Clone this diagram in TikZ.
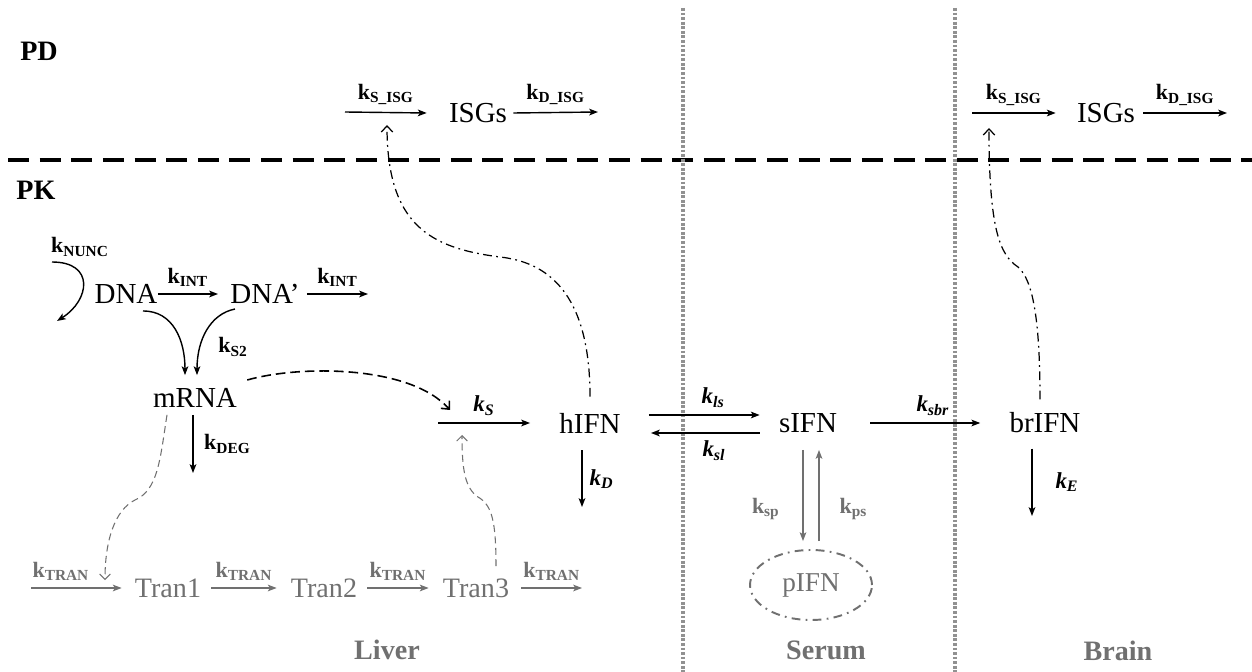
\documentclass[tikz,border=0pt]{standalone}
\usepackage{fontspec}
\setmainfont{Liberation Serif}
\usepackage{tikz}
\usetikzlibrary{arrows.meta,shapes.geometric}

\definecolor{tgray}{RGB}{112,112,112}
\definecolor{lgray}{RGB}{145,145,145}

\newcommand{\krate}[1]{\textbf{k}\textsubscript{\textbf{#1}}}
\newcommand{\kital}[1]{\textbf{\textit{k}}\textsubscript{\textbf{\textit{#1}}}}

\tikzset{
  species/.style={inner sep=0pt, font=\fontsize{16.5}{19}\selectfont},
  tran/.style={inner sep=0pt, text=tgray, font=\fontsize{16}{19}\selectfont},
  rate/.style={inner sep=1pt, font=\fontsize{12.5}{14}\selectfont},
  irate/.style={inner sep=1pt, font=\fontsize{13}{15}\selectfont},
  region/.style={inner sep=1pt, font=\fontsize{16}{19}\selectfont\bfseries},
  rxn/.style={line width=0.8pt, -{Stealth[length=5pt,width=3.8pt,inset=1.2pt]}},
  grxn/.style={rxn, line width=0.6pt, draw=tgray},
  signal/.style={line width=0.9pt, dash pattern=on 5.5pt off 2.8pt, -{Straight Barb[length=3.5pt,width=6.5pt]}},
  gsignal/.style={line width=0.6pt, draw=tgray, dash pattern=on 4pt off 2.5pt, -{Straight Barb[length=3pt,width=6pt]}},
  induce/.style={line width=0.7pt, dash pattern=on 5pt off 2.5pt on 1pt off 2.5pt, -{Straight Barb[length=3.5pt,width=6.5pt]}},
  divider/.style={draw=lgray, line width=2pt, dash pattern=on 1.6pt off 1pt},
}

\begin{document}
\begin{tikzpicture}[x=0.02cm, y=-0.02cm]

\useasboundingbox (0,0) rectangle (1252,672);

\draw[line width=2pt, dash pattern=on 12pt off 6pt] (8,160) -- (1252,160);
\foreach \xs in {683,955}
    \draw[divider] (\xs,8) -- (\xs,672);

\node[region] (PD) at (39,51) {PD};
\node[region] (PK) at (36,190) {PK};

\coordinate (synl) at (345,112);
\coordinate (degl) at (598,112);
\coordinate (synr) at (972,113);
\coordinate (degr) at (1227,113);
\coordinate (intout) at (368,294);
\coordinate (nuncA) at (52,262);
\coordinate (nuncB) at (57,321);
\coordinate (degm) at (193,473);
\coordinate (ksIn) at (438,423);
\coordinate (sigS) at (450,410);
\coordinate (sigT) at (462,435);
\coordinate (sigR) at (105,580);
\coordinate (tin) at (31,588);
\coordinate (tout) at (582,588);
\coordinate (kDend) at (582,507);
\coordinate (kEend) at (1032,516);
\coordinate (ISGindl) at (387,125);
\coordinate (ISGindr) at (989,128);

\node[species] (ISGl) at (478,113) {ISGs};
\node[species] (ISGr) at (1106,113) {ISGs};
\node[species] (DNA) at (126,294) {DNA};
\node[species] (DNAp) at (265,294) {DNA’};
\node[species] (mRNA) at (195,398) {mRNA};
\node[species] (hIFN) at (590,423) {hIFN};
\node[species] (sIFN) at (808,423) {sIFN};
\node[species] (brIFN) at (1045,423) {brIFN};
\node[tran] (Tran1) at (168,588) {Tran1};
\node[tran] (Tran2) at (324,588) {Tran2};
\node[tran] (Tran3) at (476,588) {Tran3};
\node[ellipse, draw=tgray, text=tgray, line width=1.1pt, dash pattern=on 5pt off 3pt on 1pt off 3pt,
      inner sep=0pt, minimum width=2.44cm, minimum height=1.4cm,
      font=\fontsize{15.5}{18}\selectfont] (pIFN) at (811,585) {pIFN};

\draw[rxn] (synl) -- ([xshift=-0.44cm]ISGl.west) node[rate, midway, above=3pt] (kSISGl) {\krate{S\_ISG}};
\draw[rxn] ([xshift=0.12cm]ISGl.east) -- (degl) node[rate, midway, above=3pt] (kDISGl) {\krate{D\_ISG}};
\draw[rxn] (synr) -- ([xshift=-0.42cm]ISGr.west) node[rate, midway, above=3pt] (kSISGr) {\krate{S\_ISG}};
\draw[rxn] ([xshift=0.16cm]ISGr.east) -- (degr) node[rate, midway, above=3pt] (kDISGr) {\krate{D\_ISG}};

\node[rate] (kNUNC) at (80,247) {\krate{NUNC}};
\draw[rxn] (nuncA) .. controls (95,262) and (90,300) .. (nuncB);
\draw[rxn] (DNA.east) -- ([xshift=-0.24cm]DNAp.west) node[rate, midway, above=3pt] (kINTa) {\krate{INT}};
\draw[rxn] ([xshift=0.14cm]DNAp.east) -- (intout) node[rate, midway, above=3pt] (kINTb) {\krate{INT}};
\draw[rxn] ([shift={(17,7)}]DNA.south) .. controls +(30,0) and +(0,-35) .. ([shift={(-10,-13)}]mRNA.north);
\draw[rxn] ([shift={(-30,5)}]DNAp.south) .. controls +(-25,5) and +(0,-35) .. ([shift={(2,-13)}]mRNA.north);
\node[rate] (kS2) at (233,347) {\krate{S2}};
\draw[rxn] ([shift={(-2,7)}]mRNA.south) -- (degm) node[rate, midway, right=5pt] (kDEG) {\krate{DEG}};

\draw[signal] ([shift={(10,-18)}]mRNA.east) .. controls (300,365) and (410,365) .. (sigS);
\draw[rxn] (ksIn) -- ([xshift=-0.58cm]hIFN.west) node[irate, midway, above=3pt] (kS) {\kital{S}};
\draw[gsignal] ([shift={(20,-12)}]Tran3.north) .. controls +(0,-45) and (492,505) .. (478,497) .. controls (465,488) and (462,470) .. (sigT);
\draw[gsignal] ([shift={(-28,7)}]mRNA.south) .. controls +(-7,45) and (158,490) .. (135,500) .. controls (115,510) and (105,540) .. (sigR);

\draw[grxn] (tin) -- ([xshift=-0.26cm]Tran1.west) node[rate, text=tgray, pos=0.33, above=3pt] (kTRANa) {\krate{TRAN}};
\draw[grxn] ([xshift=0.2cm]Tran1.east) -- ([xshift=-0.28cm]Tran2.west) node[rate, text=tgray, midway, above=3pt] (kTRANb) {\krate{TRAN}};
\draw[grxn] ([xshift=0.2cm]Tran2.east) -- ([xshift=-0.28cm]Tran3.west) node[rate, text=tgray, midway, above=3pt] (kTRANc) {\krate{TRAN}};
\draw[grxn] ([xshift=0.24cm]Tran3.east) -- (tout) node[rate, text=tgray, midway, above=3pt] (kTRANd) {\krate{TRAN}};

\draw[rxn] ([shift={(-8,17)}]hIFN.south) -- (kDend) node[irate, midway, right=3pt] (kD) {\kital{D}};
\draw[rxn] ([shift={(28,-8)}]hIFN.east) -- ([shift={(-19,-8)}]sIFN.west) node[irate, pos=0.58, above=3pt] (kls) {\kital{ls}};
\draw[rxn] ([shift={(-19,10)}]sIFN.west) -- ([shift={(30,10)}]hIFN.east) node[irate, pos=0.42, below=3pt] (ksl) {\kital{sl}};
\draw[grxn] ([shift={(-5,17)}]sIFN.south) -- ([shift={(-8,-8)}]pIFN.north) node[rate, text=tgray, pos=0.65, left=12pt] (ksp) {\krate{sp}};
\draw[grxn] ([shift={(8,-8)}]pIFN.north) -- ([shift={(11,17)}]sIFN.south) node[rate, text=tgray, pos=0.35, right=10.5pt] (kps) {\krate{ps}};
\draw[rxn] ([xshift=0.66cm]sIFN.east) -- ([xshift=-0.58cm]brIFN.west) node[irate, pos=0.57, above=3pt] (ksbr) {\kital{sbr}};
\draw[rxn] ([shift={(-13,15)}]brIFN.south) -- (kEend) node[irate, midway, right=12pt] (kE) {\kital{E}};

\draw[induce] ([shift={(0,-16)}]hIFN.north) .. controls (590,290) and (545,262) .. (500,257) .. controls (430,248) and (387,225) .. (ISGindl);
\draw[induce] ([shift={(-5,-13)}]brIFN.north) .. controls (1040,320) and (1033,280) .. (1018,267) .. controls (1000,255) and (989,230) .. (ISGindr);

\node[region, text=tgray] (Liver) at (387,650) {Liver};
\node[region, text=tgray] (Serum) at (826,650) {Serum};
\node[region, text=tgray] (Brain) at (1118,651) {Brain};

\end{tikzpicture}
\end{document}
